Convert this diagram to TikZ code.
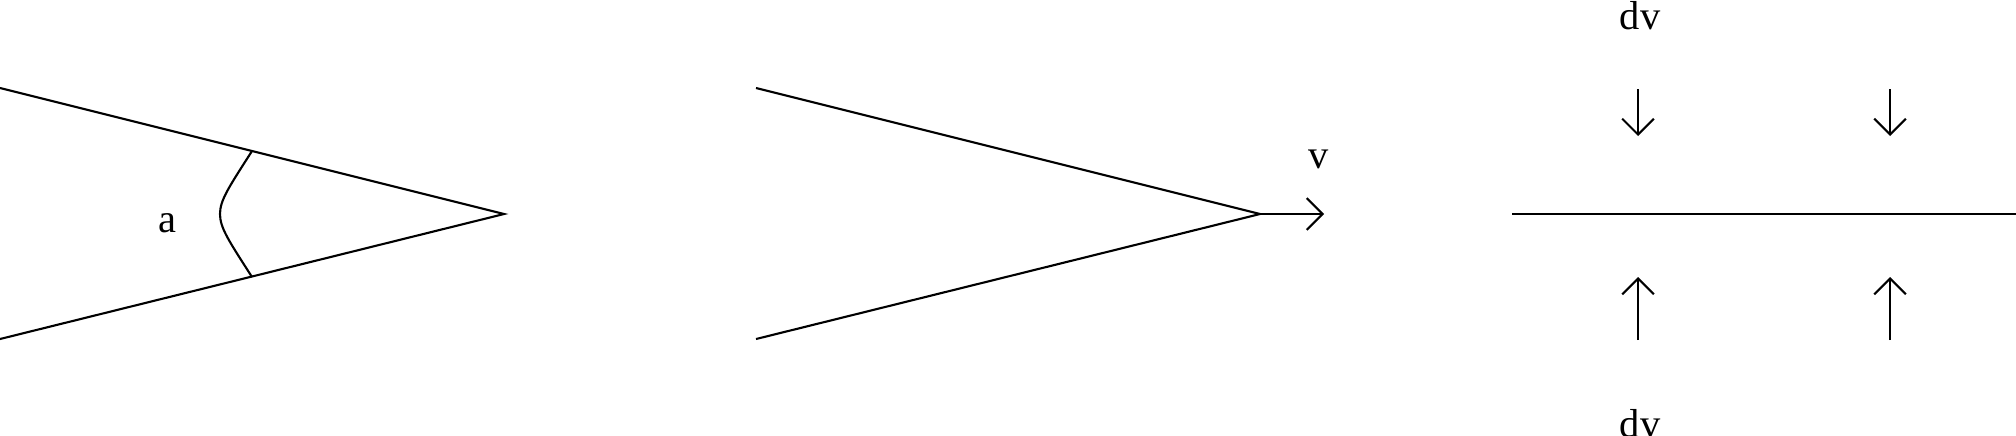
\documentclass[tikz,border=0pt]{standalone}
\usepackage{fontspec}
\setmainfont{Liberation Serif}
\usetikzlibrary{arrows.meta}
\tikzset{
    ray/.style={line width=0.6pt},
    flow/.style={
        ->,>={Straight Barb[length=4.5pt,width=9pt]},
        line width=0.6pt
    },
    lbl/.style={
        inner sep=0pt,
        anchor=base,
        font=\fontsize{11.5}{14}\selectfont
    }
}

\begin{document}
\begin{tikzpicture}[x=0.01cm, y=-0.01cm]
    \useasboundingbox (0,0) rectangle (2016,435);

    % wedge with angle
    \coordinate (w1top) at (0,88);
    \coordinate (w1tip) at (504,214);
    \coordinate (w1bot) at (0,339);
    \coordinate (arcA) at (252,151);
    \coordinate (arcM) at (220,214);
    \coordinate (arcB) at (252,277);
    \draw[ray] (w1top) -- (w1tip) -- (w1bot);
    \draw[ray] (arcA) .. controls (229,187) and (220,200) .. (arcM)
        .. controls (220,228) and (229,241) .. (arcB);
    \node[lbl] (angle) at (167,232) {a};

    % moving wedge
    \coordinate (w2top) at (756,88);
    \coordinate (w2tip) at (1260,214);
    \coordinate (w2bot) at (756,339);
    \coordinate (vend) at (1324,214);
    \draw[ray] (w2top) -- (w2tip) -- (w2bot);
    \draw[flow] (w2tip) -- (vend);
    \node[lbl] (vel) at (1319,168) {v};

    % surface and velocity changes
    \coordinate (sleft) at (1512,214);
    \coordinate (sright) at (2016,214);
    \draw[ray] (sleft) -- (sright);
    \foreach \i/\x in {1/1638, 2/1890} {
        \coordinate (dtop\i) at (\x,89);
        \coordinate (dmid\i) at (\x,136);
        \coordinate (umid\i) at (\x,277);
        \coordinate (ubot\i) at (\x,340);
        \draw[flow] (dtop\i) -- (dmid\i);
        \draw[flow] (ubot\i) -- (umid\i);
    }
    \node[lbl] (dvtop) at (1640,29) {dv};
    \node[lbl] (dvbot) at (1640,437) {dv};
\end{tikzpicture}
\end{document}
